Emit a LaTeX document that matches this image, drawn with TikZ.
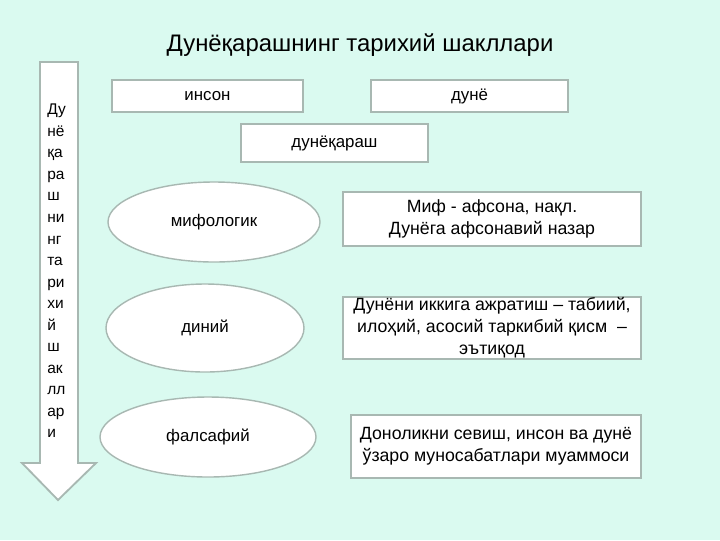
\documentclass[tikz,border=0pt]{standalone}
\usepackage{fontspec}
\setmainfont{Liberation Sans}
\usetikzlibrary{shapes.geometric, positioning}
\definecolor{mint}{RGB}{218,250,240}
\definecolor{frame}{RGB}{168,184,178}

\begin{document}
\begin{tikzpicture}[x=0.025cm, y=-0.025cm,
        box/.style={draw=frame, line width=1.3pt, fill=white, inner sep=0pt, align=center,
            font=\fontsize{12.6}{15.6}\selectfont},
        oval/.style={ellipse, draw=frame, line width=1pt, fill=white, inner sep=0pt,
            font=\fontsize{12}{15}\selectfont}]
    \fill[mint] (0,0) rectangle (720,540);

    \node (Title) at (360,45) {\fontsize{17}{20}\selectfont Дунёқарашнинг тарихий шакллари};

    % arrow on the left
    \filldraw[fill=white, draw=frame, line width=1.3pt]
        (40,62) -- (78,62) -- (78,463) -- (96,463) -- (58,500) -- (22,463) -- (40,463) -- cycle;
    \node (ArrowText) [anchor=north west, align=left, inner sep=0pt,
        font=\fontsize{11}{15.3}\selectfont] at (47,104)
        {Ду\\нё\\қа\\ра\\ш\\ни\\нг\\та\\ри\\хи\\й\\ш\\ак\\лл\\ар\\и};

    % top boxes
    \node (Inson) [box, font=\fontsize{12}{15}\selectfont, minimum width={191*0.025cm}, minimum height={32*0.025cm}] at (207.5,96) {инсон};
    \node (Dunyo) [box, font=\fontsize{12}{15}\selectfont, minimum width={197*0.025cm}, minimum height={32*0.025cm}] at (469.5,96) {дунё};
    \node (Qarash) [box, font=\fontsize{12}{15}\selectfont, minimum width={187*0.025cm}, minimum height={38*0.025cm}] at (334.5,143) {дунёқараш};

    % forms
    \node (Mif) [oval, minimum width={212*0.025cm}, minimum height={80*0.025cm}] at (214,222) {мифологик};
    \node (Din) [oval, minimum width={198*0.025cm}, minimum height={88*0.025cm}] at (205,328) {диний};
    \node (Fal) [oval, minimum width={216*0.025cm}, minimum height={80*0.025cm}] at (208,437) {фалсафий};

    % descriptions
    \node (MifText) [box, minimum width={298*0.025cm}, minimum height={54*0.025cm}] at (492,219)
        {Миф - афсона, нақл.\\Дунёга афсонавий назар};
    \node (DinText) [box, minimum width={298*0.025cm}, minimum height={62*0.025cm}] at (492,328)
        {Дунёни иккига ажратиш – табиий,\\илоҳий, асосий таркибий қисм \ –\\эътиқод};
    \node (FalText) [box, minimum width={290*0.025cm}, minimum height={63*0.025cm}] at (496,446.5)
        {Доноликни севиш, инсон ва дунё\\ўзаро муносабатлари муаммоси};
\end{tikzpicture}
\end{document}
